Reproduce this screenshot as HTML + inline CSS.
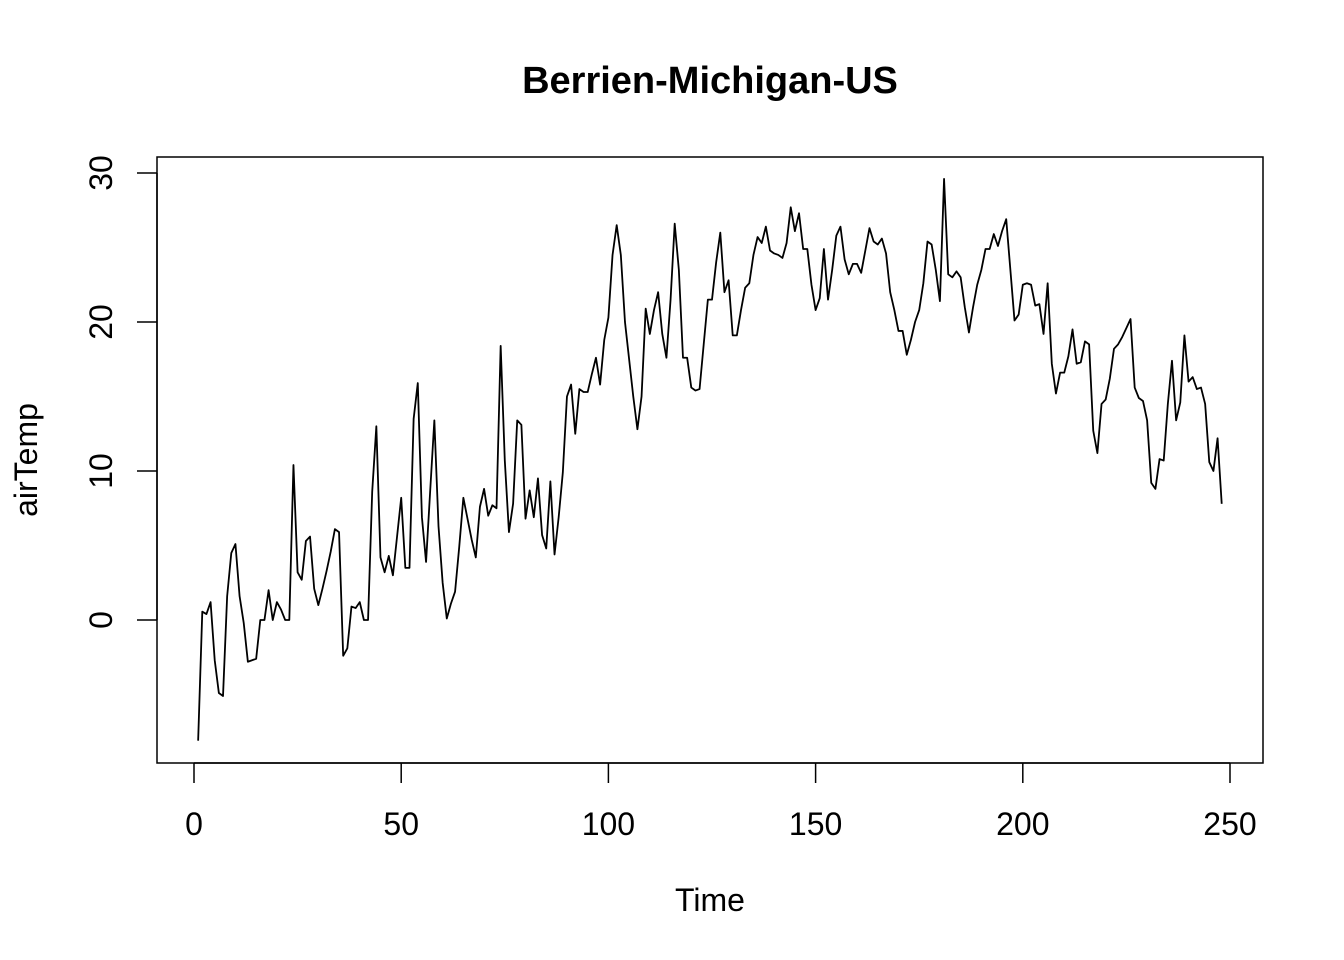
<!DOCTYPE html>
<html><head><meta charset="utf-8"><style>
html,body{margin:0;padding:0;background:#fff;}
svg{display:block;font-family:"Liberation Sans",Arial,sans-serif;}
</style></head><body>
<svg id="chart" width="1344" height="960" viewBox="0 0 1344 960" xmlns="http://www.w3.org/2000/svg">
<rect x="0" y="0" width="1344" height="960" fill="#fff"/>
<text x="710" y="93" text-anchor="middle" font-size="38" font-weight="bold">Berrien-Michigan-US</text>
<rect x="157" y="157" width="1106" height="606" fill="none" stroke="#000" stroke-width="1.5"/>
<g id="xaxis"></g>
<g id="yaxis"></g>
<text x="710" y="911" text-anchor="middle" font-size="32">Time</text>
<text transform="translate(37,460) rotate(-90)" text-anchor="middle" font-size="32">airTemp</text>
<g id="series"></g>
</svg>
<script>
const airTemp = [-8.1,0.56,0.4,1.2,-2.7,-4.9,-5.1,1.6,4.5,5.1,
1.6,-0.2,-2.8,-2.7,-2.6,0,0,2.0,0,1.2,
0.7,0,0,10.4,3.2,2.7,5.3,5.6,2.1,1.0,
2.1,3.3,4.6,6.1,5.9,-2.4,-1.9,0.9,0.8,1.2,
0,0,8.6,13.0,4.2,3.2,4.3,3.0,5.6,8.2,
3.5,3.5,13.5,15.9,6.9,3.9,8.7,13.4,6.3,2.5,
0.1,1.1,1.9,4.9,8.2,6.8,5.4,4.2,7.6,8.8,
7.0,7.7,7.5,18.4,10.7,5.9,7.8,13.4,13.1,6.8,
8.7,6.9,9.5,5.7,4.8,9.3,4.4,6.9,9.9,15.0,
15.8,12.5,15.5,15.3,15.3,16.5,17.6,15.8,18.8,20.3,
24.5,26.5,24.5,20,17.5,15,12.8,15,20.9,19.2,
20.8,22,19.2,17.6,21.5,26.6,23.5,17.6,17.6,15.6,
15.4,15.5,18.5,21.5,21.5,24,26,22,22.8,19.1,
19.1,20.8,22.3,22.6,24.5,25.7,25.3,26.4,24.8,24.6,
24.5,24.3,25.3,27.7,26.1,27.3,24.9,24.9,22.5,20.8,
21.6,24.9,21.5,23.5,25.8,26.4,24.2,23.2,23.9,23.9,
23.3,24.8,26.3,25.4,25.2,25.6,24.6,22,20.8,19.4,
19.4,17.8,18.8,20,20.8,22.6,25.4,25.2,23.5,21.4,
29.6,23.2,23,23.4,23,21,19.3,21,22.5,23.5,
24.9,24.9,25.9,25.1,26.1,26.9,23.5,20.1,20.5,22.5,
22.6,22.5,21.1,21.2,19.2,22.6,17.2,15.2,16.6,16.6,
17.7,19.5,17.2,17.3,18.7,18.5,12.7,11.2,14.5,14.8,
16.2,18.2,18.5,19,19.6,20.2,15.6,14.9,14.7,13.4,
9.2,8.8,10.8,10.7,14.5,17.4,13.4,14.6,19.1,16,
16.3,15.5,15.6,14.5,10.6,10,12.2,7.8];
const xTicks = [0,50,100,150,200,250];
const yTicks = [0,10,20,30];

const NS = "http://www.w3.org/2000/svg";
function xs(t){ return 194 + (t - 0) * (1230 - 194) / 250; }
function ys(v){ return 620 - v * (620 - 173) / 30; }
function mk(tag, attrs, parent){ const e = document.createElementNS(NS, tag); for (const k in attrs) e.setAttribute(k, attrs[k]); parent.appendChild(e); return e; }

const xg = document.getElementById('xaxis');
mk('line', {x1: xs(xTicks[0]), x2: xs(xTicks[xTicks.length-1]), y1: 763, y2: 763, stroke: '#000', 'stroke-width': 1.5}, xg);
xTicks.forEach(t => {
  const l = mk('line', {x1: xs(t), x2: xs(t), y1: 763, y2: 783, stroke: '#000', 'stroke-width': 1.5}, xg);
  
  
  const tx = mk('text', {x: xs(t), y: 835, 'text-anchor': 'middle', 'font-size': 32}, xg);
  tx.textContent = t;
  
  
});
const yg = document.getElementById('yaxis');
mk('line', {x1: 157, x2: 157, y1: ys(yTicks[0]), y2: ys(yTicks[yTicks.length-1]), stroke: '#000', 'stroke-width': 1.5}, yg);
yTicks.forEach(v => {
  const l = mk('line', {x1: 137, x2: 157, y1: ys(v), y2: ys(v), stroke: '#000', 'stroke-width': 1.5}, yg);
  
  
  const tx = mk('text', {transform: 'translate(112,' + ys(v) + ') rotate(-90)', 'text-anchor': 'middle', 'font-size': 32}, yg);
  tx.textContent = v;
  
  
});
const sg = document.getElementById('series');
const pts = airTemp.map((v, i) => xs(i + 1).toFixed(2) + ',' + ys(v).toFixed(2)).join(' ');
const pl = mk('polyline', {points: pts, fill: 'none', stroke: '#000', 'stroke-width': 1.8, 'stroke-linejoin': 'round'}, sg);


</script>
</body></html>
